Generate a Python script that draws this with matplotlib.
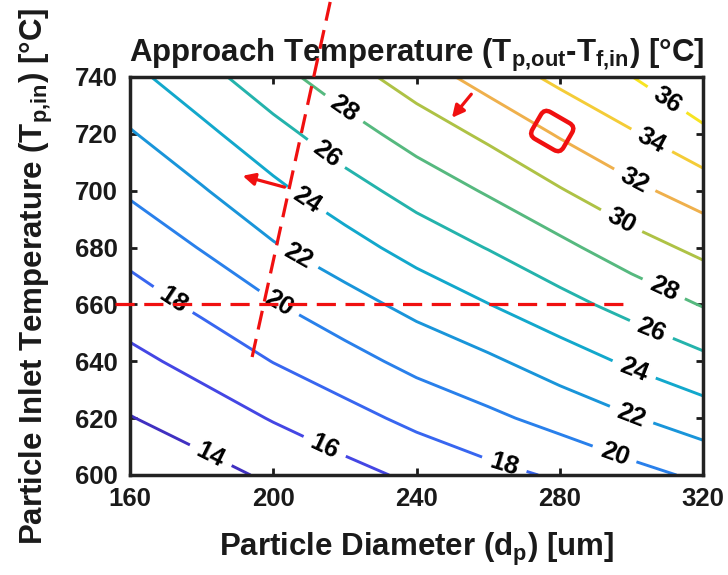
import numpy as np
import matplotlib
matplotlib.use("Agg")
import matplotlib.pyplot as plt
from matplotlib.colors import LinearSegmentedColormap
from matplotlib.patches import FancyBboxPatch
from matplotlib.transforms import Affine2D

# ---------------- data ----------------
dp_um = [160, 180, 200, 220, 240, 260, 280, 300, 320]
tp_in = [600, 620, 640, 660, 680, 700, 720, 740]
approach_T = [
    [12.37, 13.29, 14.33, 15.34, 16.41, 17.40, 18.26, 19.34, 20.39],
    [13.92, 14.95, 16.13, 17.30, 18.52, 19.58, 20.68, 21.87, 23.02],
    [15.47, 16.65, 18.05, 19.28, 20.60, 21.65, 22.99, 24.33, 25.52],
    [17.05, 18.42, 19.86, 21.24, 22.60, 23.96, 25.35, 26.70, 28.12],
    [18.65, 20.10, 21.80, 23.20, 24.79, 26.08, 27.50, 29.11, 30.53],
    [20.26, 21.83, 23.53, 25.21, 26.76, 28.21, 29.85, 31.51, 32.97],
    [21.84, 23.50, 25.32, 27.14, 28.83, 30.42, 32.19, 33.82, 35.56],
    [23.46, 25.27, 27.28, 29.15, 31.02, 32.81, 34.48, 35.96, 37.96],
]
levels = [14, 16, 18, 20, 22, 24, 26, 28, 30, 32, 34, 36]
x_ticks = [160, 200, 240, 280, 320]
y_ticks = [600, 620, 640, 660, 680, 700, 720, 740]

# label anchor points (dp, Tp)
label_pos = [(182.3, 606.3), (213.9, 608.8), (172, 661.6), (264.2, 602.5),
             (201, 659.1), (294.9, 606), (206.6, 676.3), (299.7, 620.1),
             (209.4, 696.7), (300.5, 636.2), (213.9, 711.5), (305.3, 650.3),
             (219.5, 728.4), (308.9, 665.1), (296.9, 688.6), (300.5, 702.7),
             (305.3, 716.8), (309, 730.2)]

# ---------------- style ----------------
plt.rcParams['font.family'] = ['Liberation Sans', 'DejaVu Sans']
plt.rcParams['font.weight'] = 'bold'
plt.rcParams['mathtext.default'] = 'regular'
txt = '#1a1a1a'

parula = LinearSegmentedColormap.from_list('parula', [
    (0.00, (0.22, 0.13, 0.62)),
    (0.12, (0.28, 0.24, 0.88)),
    (0.25, (0.20, 0.45, 0.96)),
    (0.37, (0.10, 0.58, 0.86)),
    (0.48, (0.06, 0.68, 0.78)),
    (0.56, (0.18, 0.71, 0.62)),
    (0.62, (0.36, 0.73, 0.48)),
    (0.69, (0.68, 0.76, 0.27)),
    (0.77, (0.94, 0.69, 0.30)),
    (0.86, (0.96, 0.82, 0.20)),
    (1.00, (0.98, 0.98, 0.05)),
])

fig = plt.figure(figsize=(7.28, 5.75), dpi=100)
ax = fig.add_axes([130/728, 100/575, 573/728, 398/575])

X, Y = np.meshgrid(dp_um, tp_in)
Z = np.array(approach_T)
cs = ax.contour(X, Y, Z, levels=levels, cmap=parula,
                vmin=Z.min(), vmax=Z.max(), linewidths=2.1)
lbls = ax.clabel(cs, levels=levels, manual=label_pos, inline=True,
                 inline_spacing=9, fontsize=18.5, colors='k', fmt='%d')
for t in lbls:
    t.set_fontweight('bold')

ax.set_xlim(160, 320)
ax.set_ylim(600, 740)
ax.set_xticks(x_ticks)
ax.set_yticks(y_ticks)
ax.tick_params(direction='in', length=5, width=2, top=True, right=True,
               labelsize=18.5, colors=txt, pad=9)
for s in ax.spines.values():
    s.set_linewidth(2.5)
    s.set_color('#222222')

ax.set_xlabel('Particle Diameter (d$_{p}$) [um]', fontsize=22.5,
              fontweight='bold', color=txt, labelpad=14)
ax.set_ylabel('Particle Inlet Temperature (T$_{p{,}in}$) [°C]', fontsize=22.5,
              fontweight='bold', color=txt, labelpad=14)
ax.set_title('Approach Temperature (T$_{p{,}out}$-T$_{f{,}in}$) [°C]',
             fontsize=22.5, fontweight='bold', color=txt, pad=11)

red = '#f01010'
# dashed annotation lines
ax.plot([215.9, 194.1], [766.4, 641.5], color=red, lw=2.3,
        dashes=(6, 3), clip_on=False, zorder=10)
ax.plot([155.8, 297.7], [660, 660], color=red, lw=2.3,
        dashes=(6, 3), clip_on=False, zorder=10)
# arrows
ax.annotate('', xy=(190.7, 705.5), xytext=(203.9, 701),
            arrowprops=dict(arrowstyle='-|>', color=red, lw=2.3,
                            mutation_scale=18), zorder=10)
ax.annotate('', xy=(249.4, 724.9), xytext=(255.8, 734.7),
            arrowprops=dict(arrowstyle='-|>', color=red, lw=2.3,
                            mutation_scale=18), zorder=10)
# rounded rectangle
cx, cy = ax.transData.transform((277.9, 721.0))
w, h = 36, 31
box = FancyBboxPatch((-w/2, -h/2), w, h,
                     boxstyle='round,pad=0,rounding_size=7',
                     transform=Affine2D().rotate_deg(-30).translate(cx, cy),
                     fill=False, edgecolor=red, lw=3.2, zorder=11)
fig.add_artist(box)

fig.savefig('out.png', dpi=100)
